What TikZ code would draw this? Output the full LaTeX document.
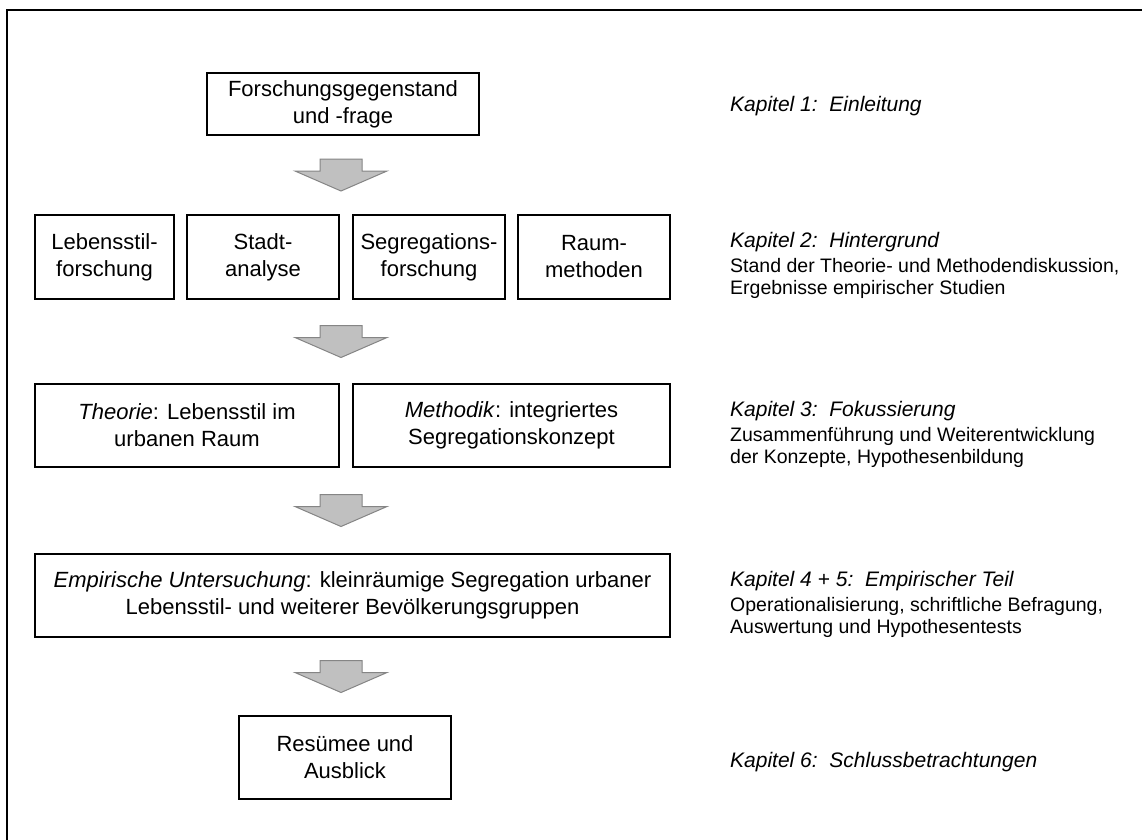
\documentclass[tikz,border=0pt]{standalone}
\usepackage{fontspec}
\setmainfont{Liberation Sans}
\usetikzlibrary{calc}
\definecolor{arrowfill}{HTML}{C0C0C0}
\definecolor{arrowedge}{HTML}{858585}
\begin{document}
\begin{tikzpicture}[x=1pt,y=-1pt,
  box/.style={draw=black, line width=1.8pt, align=center, inner sep=0pt,
    font=\fontsize{22}{27}\selectfont},
  flow/.style={fill=arrowfill, draw=arrowedge, line width=1pt, line join=miter},
  chapter/.style={anchor=base west, inner sep=0pt, font=\fontsize{21}{25}\selectfont\itshape},
  detail/.style={anchor=base west, inner sep=0pt, font=\fontsize{19.5}{22}\selectfont},
  downarrow/.pic={\draw[flow] (-21,-16) -- (21,-16) -- (21,-4) -- (46,-4) -- (0,16)
      -- (-46,-4) -- (-21,-4) -- cycle;}]
\useasboundingbox (0,0) rectangle (1142,839);
\clip (0,0) rectangle (1142,839);
\fill[white] (0,0) rectangle (1142,839);

% outer frame
\draw[line width=2pt] (7,860) -- (7,10) -- (1160,10);

% flow boxes
\node[box, minimum width=272pt, minimum height=62pt] (q) at (343,104)
  {Forschungsgegenstand\\und -frage};

\node[box, minimum width=139pt, minimum height=84pt] (a) at (104.5,257) {Lebensstil-\\forschung};
\node[box, minimum width=152pt, minimum height=84pt] (b) at (263,257) {Stadt-\\analyse};
\node[box, minimum width=152pt, minimum height=84pt] (c) at (429,257) {Segregations-\\forschung};
\node[box, minimum width=152pt, minimum height=84pt] (d) at (594,257) {Raum-\\methoden};

\node[box, minimum width=304pt, minimum height=83pt] (t) at (187,425.5)
  {\textit{Theorie}: Lebensstil im\\urbanen Raum};
\node[box, minimum width=317pt, minimum height=83pt] (m) at (511.5,425.5)
  {\textit{Methodik}: integriertes\\Segregationskonzept};

\node[box, minimum width=635pt, minimum height=83pt] (e) at (352.5,595.5)
  {\textit{Empirische Untersuchung}: kleinräumige Segregation urbaner\\Lebensstil- und weiterer Bevölkerungsgruppen};

\node[box, minimum width=212pt, minimum height=83pt] (r) at (345,757.5)
  {Resümee und\\Ausblick};

% block arrows between the stages
\pic at ($(q.south)!0.5!(q.south |- b.north) + (-2,0)$) {downarrow};
\pic at ($(b.south -| q)!0.5!(t.north -| q) + (-2,0)$) {downarrow};
\pic at ($(t.south -| q)!0.5!(e.north -| q) + (-2,0)$) {downarrow};
\pic at ($(e.south -| q)!0.5!(r.north -| q) + (-2,0)$) {downarrow};

% chapter column
\node[chapter] (k1) at (730,111) {Kapitel 1:\ \ Einleitung};

\node[chapter] (k2) at (730,247) {Kapitel 2:\ \ Hintergrund};
\node[detail] (k2a) at (730,272.5) {Stand der Theorie- und Methodendiskussion,};
\node[detail] (k2b) at (730,294) {Ergebnisse empirischer Studien};

\node[chapter] (k3) at (730,416) {Kapitel 3:\ \ Fokussierung};
\node[detail] (k3a) at (730,441.5) {Zusammenführung und Weiterentwicklung};
\node[detail] (k3b) at (730,463) {der Konzepte, Hypothesenbildung};

\node[chapter] (k4) at (730,586) {Kapitel 4 + 5:\ \ Empirischer Teil};
\node[detail] (k4a) at (730,611.5) {Operationalisierung, schriftliche Befragung,};
\node[detail] (k4b) at (730,633) {Auswertung und Hypothesentests};

\node[chapter] (k6) at (730,767) {Kapitel 6:\ \ Schlussbetrachtungen};
\end{tikzpicture}
\end{document}
